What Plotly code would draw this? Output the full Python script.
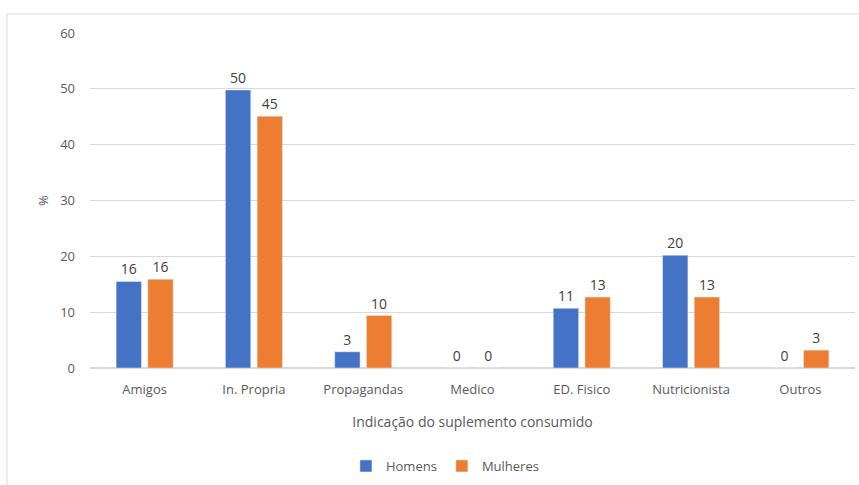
import plotly.graph_objects as go

categories = ["Amigos", "In. Propria", "Propagandas", "Medico", "ED. Fisico", "Nutricionista", "Outros"]
homens = [15.5, 49.8, 2.9, 0, 10.7, 20.2, 0]
mulheres = [15.9, 45.1, 9.4, 0, 12.7, 12.7, 3.2]
homens_labels = ["16", "50", "3", "0", "11", "20", "0"]
mulheres_labels = ["16", "45", "10", "0", "13", "13", "3"]
y_ticks = [0, 10, 20, 30, 40, 50, 60]

FONT = "Open Sans"
GRAY = "#595959"

fig = go.Figure()
fig.add_trace(go.Bar(name="Homens", x=categories, y=homens, text=homens_labels,
                     marker_color="#4472C4", textposition="outside", cliponaxis=False,
                     textfont=dict(color="#404040", size=14, family=FONT)))
fig.add_trace(go.Bar(name="Mulheres", x=categories, y=mulheres, text=mulheres_labels,
                     marker_color="#ED7D31", textposition="outside", cliponaxis=False,
                     textfont=dict(color="#404040", size=14, family=FONT)))

fig.update_layout(
    width=859, height=485,
    margin=dict(l=90, r=4, t=33, b=117),
    paper_bgcolor="white", plot_bgcolor="white",
    barmode="group", bargap=0.42, bargroupgap=0.2,
    font=dict(family=FONT, color=GRAY, size=13),
    showlegend=True,
    legend=dict(orientation="h", x=0.464, xanchor="center", y=-0.2925, yanchor="middle",
                font=dict(size=13, color=GRAY, family=FONT), itemwidth=30, traceorder="normal"),
    xaxis=dict(showgrid=False, showline=False, ticks="", tickfont=dict(size=13, color=GRAY),
               ticklabelstandoff=12,
               title=dict(text="Indicação do suplemento consumido", standoff=20,
                          font=dict(size=14, color=GRAY))),
    yaxis=dict(range=[0, 60], tickvals=y_ticks, showgrid=True, gridcolor="#d9d9d9", gridwidth=1,
               zeroline=True, zerolinecolor="#d9d9d9", showline=False, ticks="",
               ticklabelstandoff=14, tickfont=dict(size=13, color=GRAY),
               title=dict(text="%", standoff=8, font=dict(size=13, color=GRAY))),
    shapes=[
        dict(type="line", xref="paper", yref="paper", x0=-0.1085, x1=1.01, y0=1.0567, y1=1.0567,
             line=dict(color="#d9d9d9", width=1)),
        dict(type="line", xref="paper", yref="paper", x0=-0.1085, x1=-0.1085, y0=1.0567, y1=-0.36,
             line=dict(color="#d9d9d9", width=1)),
    ],
)

fig.write_html("out.html")
